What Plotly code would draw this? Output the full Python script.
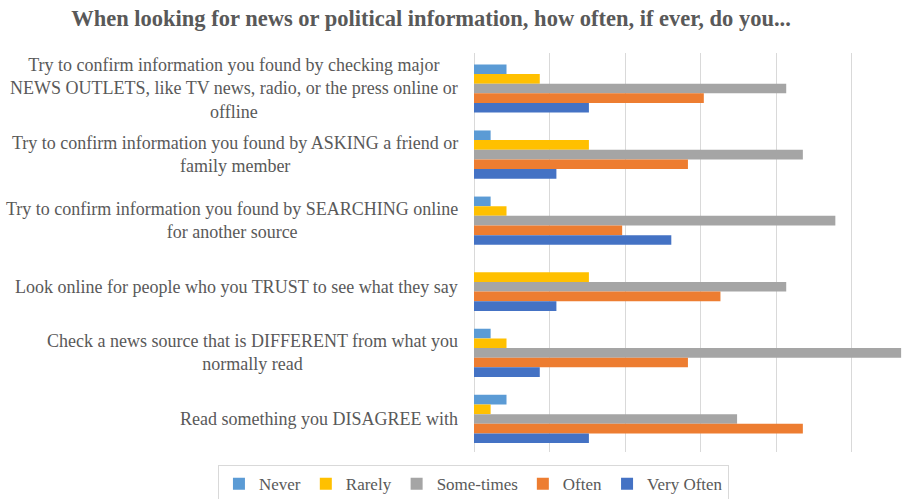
import plotly.graph_objects as go

categories = [
    "Try to confirm information you found by checking major<br>NEWS OUTLETS, like TV news, radio, or the press online or<br>offline",
    "Try to confirm information you found by ASKING a friend or<br>family member",
    "Try to confirm information you found by SEARCHING online<br>for another source",
    "Look online for people who you TRUST to see what they say",
    "Check a news source that is DIFFERENT from what you<br>normally read",
    "Read something you DISAGREE with",
]

# percentages of respondents
never = [4.3, 2.2, 2.2, 0.0, 2.2, 4.3]
rarely = [8.7, 15.2, 4.3, 15.2, 4.3, 2.2]
sometimes = [41.3, 43.5, 47.8, 41.3, 56.5, 34.8]
often = [30.4, 28.3, 19.6, 32.6, 28.3, 43.5]
very_often = [15.2, 10.9, 26.1, 10.9, 8.7, 15.2]

series = [
    ("Never", never, "#5B9BD5"),
    ("Rarely", rarely, "#FFC000"),
    ("Some-times", sometimes, "#A5A5A5"),
    ("Often", often, "#ED7D31"),
    ("Very Often", very_often, "#4472C4"),
]

fig = go.Figure()
for name, vals, color in series:
    fig.add_trace(go.Bar(
        y=categories, x=vals, name=name, orientation="h",
        marker=dict(color=color, line=dict(width=0)),
    ))

serif = "Liberation Serif"
text_color = "#595959"

# category labels: centred multi-line text, right-aligned next to the axis
for cat in categories:
    fig.add_annotation(
        x=0, xref="paper", y=cat, yref="y",
        text=cat, showarrow=False,
        xanchor="right", yanchor="middle", align="center", xshift=-14,
        font=dict(family=serif, size=18, color=text_color),
    )

fig.update_layout(
    width=917, height=499,
    margin=dict(l=474, r=0, t=53, b=47, autoexpand=False),
    barmode="group", bargap=0.27, bargroupgap=0,
    plot_bgcolor="white", paper_bgcolor="white",
    title=dict(
        text="<b>When looking for news or political information, how often, if ever, do you...</b>",
        x=0.47, xanchor="center", y=0.963, yanchor="middle",
        xref="container", yref="container",
        font=dict(family=serif, size=22.5, color=text_color),
    ),
    xaxis=dict(
        range=[0, 58.6], dtick=10, showticklabels=False,
        showgrid=True, gridcolor="#D9D9D9", gridwidth=1,
        zeroline=True, zerolinecolor="#D9D9D9", zerolinewidth=1,
        fixedrange=True,
    ),
    yaxis=dict(
        autorange="reversed", showgrid=False, ticks="",
        showticklabels=False,
    ),
    legend=dict(
        orientation="h", xref="paper", yref="paper",
        x=-0.578, xanchor="left", y=-0.033, yanchor="top",
        bordercolor="#D9D9D9", borderwidth=1,
        font=dict(family=serif, size=17, color=text_color),
        itemwidth=30, tracegroupgap=0,
    ),
    showlegend=True,
)

fig.write_html("out.html")
